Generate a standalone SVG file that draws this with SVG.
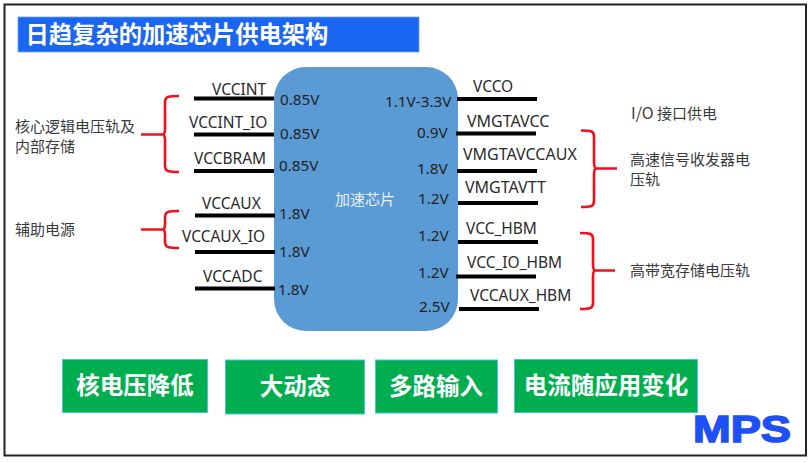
<svg xmlns="http://www.w3.org/2000/svg" width="812" height="463" viewBox="0 0 812 463">
<style>
text{font-family:"Noto Sans","Noto Sans CJK SC",sans-serif;fill:#2b2b2b}
.s{font-size:15.500px}
.m{font-size:16px}
.v{font-size:15.300px;fill:#222}
.c{font-size:15px;font-family:"Noto Sans CJK SC",sans-serif;fill:#3a3a3a}
.g{fill:#00ae4f;stroke:#4cc3d9;stroke-width:1}
.t{font-family:"Noto Sans CJK SC",sans-serif;font-size:23.500px;font-weight:700;fill:#fff;text-anchor:middle}
.w{stroke:#000;stroke-width:4;fill:none}
.b{stroke:#f0101c;stroke-width:2.600;fill:none}
</style>
<rect x="0" y="0" width="812" height="463" fill="#fff"/>
<rect id="frame" x="4.500" y="4.500" width="801.500" height="451" fill="#fff" stroke="#222" stroke-width="2"/>
<g id="title"><rect x="18" y="17" width="401" height="35" fill="#1a66f2" stroke="#6fa3f5" stroke-width="0.800"/>
<text x="25.500" y="43" style="font-family:'Noto Sans CJK SC',sans-serif;font-size:23.300px;font-weight:700;fill:#fff">日趋复杂的加速芯片供电架构</text></g>
<g id="chip"><rect x="274" y="67" width="184" height="264" rx="32" ry="32" fill="#5b9bd5"/>
<text x="335" y="205" style="font-family:'Noto Sans CJK SC',sans-serif;font-size:15px;fill:#e8f0f8">加速芯片</text></g>
<g id="connectors">
<path class="w" d="M194 98.500H274M194 134.500H274M194 171H274M195 215.500H275M195 252H275M195 288.500H275"/>
<path class="w" d="M457 99H537M456 133.500H536M457 171H537M458 203H538M458 242H538M456 276.500H536M459 309H539"/>
<path class="b" d="M179 96C170 96 165 96 165 102V128Q165 134 163 134.500H141M163 134.500Q165 135 165 141V166C165 172 170 172 179 172"/>
<path class="b" d="M179 211C170 211 165 211 165 217V224Q165 229 163 229.500H141M163 229.500Q165 230 165 235V242C165 248 170 248 179 248"/>
<path class="b" d="M581 130.500C590 130.500 594 130.500 594 136V162Q594 168 596 168.500H617M596 168.500Q594 169 594 175V201C594 207 590 207 581 207"/>
<path class="b" d="M580 233C589 233 593 233 593 239V264Q593 270 595 270.500H615M595 270.500Q593 271 593 277V303C593 309 589 309 580 309"/>
</g>
<g id="left-rails">
<text class="s" x="212" y="95">VCCINT</text><text class="v" x="280" y="105">0.85V</text>
<text class="s" x="189" y="128">VCCINT_IO</text><text class="v" x="280" y="139">0.85V</text>
<text class="s" x="194" y="164">VCCBRAM</text><text class="v" x="279" y="171">0.85V</text>
<text class="s" x="202" y="209">VCCAUX</text><text class="v" x="279" y="219">1.8V</text>
<text class="s" x="182" y="242">VCCAUX_IO</text><text class="v" x="279" y="257">1.8V</text>
<text class="s" x="203" y="282">VCCADC</text><text class="v" x="278" y="295">1.8V</text>
</g>
<g id="right-rails">
<text class="v" x="385" y="107">1.1V-3.3V</text><text class="s" x="473" y="92">VCCO</text>
<text class="v" x="417" y="138">0.9V</text><text class="m" x="467" y="127">VMGTAVCC</text>
<text class="v" x="417" y="174">1.8V</text><text class="m" x="463" y="160">VMGTAVCCAUX</text>
<text class="v" x="418" y="204">1.2V</text><text class="m" x="465" y="193">VMGTAVTT</text>
<text class="v" x="418" y="241">1.2V</text><text class="s" x="466" y="234">VCC_HBM</text>
<text class="v" x="418" y="278">1.2V</text><text class="s" x="467" y="268">VCC_IO_HBM</text>
<text class="v" x="419" y="312">2.5V</text><text class="s" x="470" y="301">VCCAUX_HBM</text>
</g>
<g id="label-core"><text class="c" x="15" y="132">核心逻辑电压轨及<tspan x="15" dy="20">内部存储</tspan></text></g>
<g id="label-aux"><text class="c" x="15" y="235">辅助电源</text></g>
<g id="label-io"><text class="c" x="631" y="119"><tspan font-size="16">I/O</tspan> 接口供电</text></g>
<g id="label-serdes"><text class="c" x="630" y="165">高速信号收发器电<tspan x="630" dy="20">压轨</tspan></text></g>
<g id="label-hbm"><text class="c" x="630" y="276">高带宽存储电压轨</text></g>
<g id="box1"><rect class="g" x="62.500" y="359.500" width="145" height="53"/><text class="t" x="135" y="394">核电压降低</text></g>
<g id="box2"><rect class="g" x="225.500" y="360" width="139" height="54"/><text class="t" x="295" y="395">大动态</text></g>
<g id="box3"><rect class="g" x="375.500" y="360" width="122" height="53"/><text class="t" x="436" y="395">多路输入</text></g>
<g id="box4"><rect class="g" x="514.500" y="359.500" width="183" height="53"/><text class="t" x="606" y="394">电流随应用变化</text></g>
<g id="logo"><text x="693" y="442" textLength="98" lengthAdjust="spacingAndGlyphs" style="font-family:'Liberation Sans',sans-serif;font-size:36px;font-weight:700;fill:#1f50f5;stroke:#1f50f5;stroke-width:1.500">MPS</text></g>
</svg>
